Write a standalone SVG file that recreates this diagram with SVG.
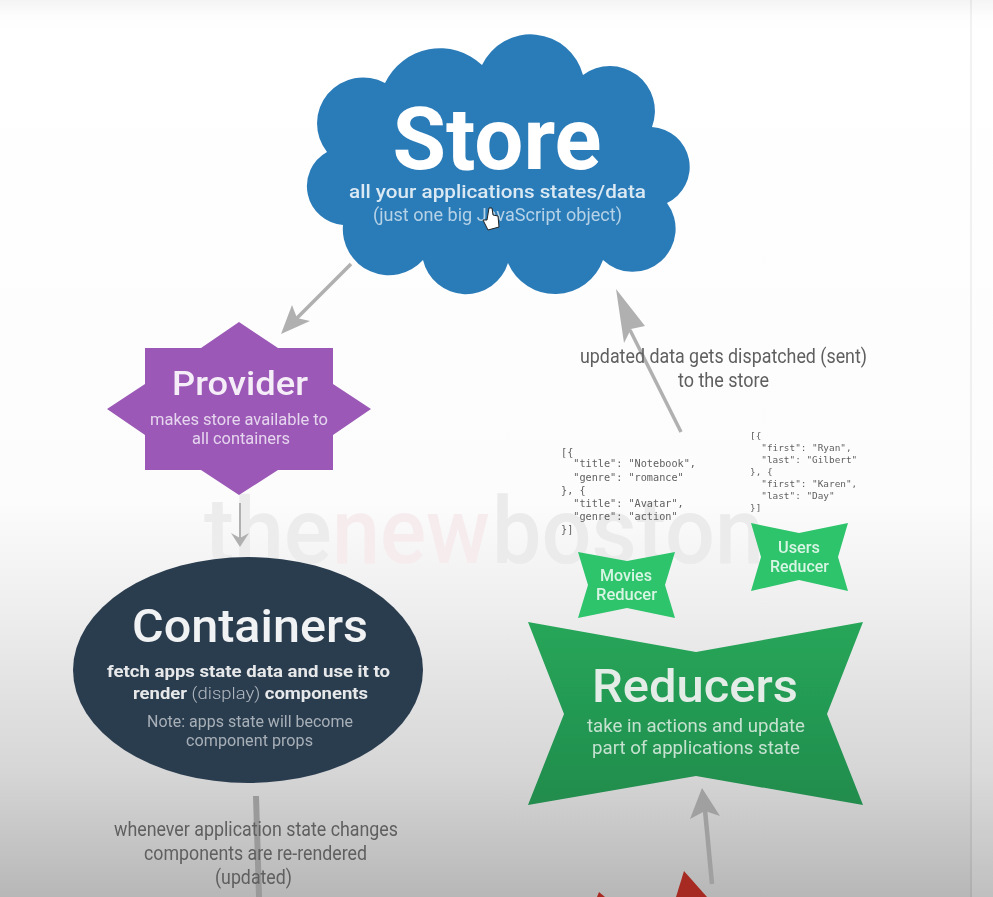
<svg xmlns="http://www.w3.org/2000/svg" width="993" height="897" viewBox="0 0 993 897">
<style>
text{font-family:Roboto,"Liberation Sans",sans-serif;text-anchor:middle}
.mono{font-family:"DejaVu Sans Mono","Liberation Mono",monospace;font-size:10.2px;fill:#5f5f5f;text-anchor:start;white-space:pre}
.mono2{font-size:9.4px}
.lbl{font-size:19.5px;fill:#5f5f5f}
.conn{stroke:#b0b0b0;fill:none;stroke-linecap:butt}
.head{fill:#b0b0b0}
.wm{font-size:92px;font-weight:500;text-anchor:start}
</style>
<defs>
<linearGradient id="bg" x1="0" y1="0" x2="0" y2="1">
<stop offset="0" stop-color="#f4f4f4"/><stop offset=".018" stop-color="#fdfdfd"/><stop offset=".035" stop-color="#ffffff"/><stop offset=".56" stop-color="#fcfcfc"/><stop offset=".68" stop-color="#eeeeee"/><stop offset=".86" stop-color="#d6d6d6"/><stop offset="1" stop-color="#b7b7b7"/>
</linearGradient>
<linearGradient id="grn" x1="0" y1="0" x2="0" y2="1"><stop offset="0" stop-color="#27a659"/><stop offset="1" stop-color="#208c4d"/></linearGradient>
<filter id="soft" x="0" y="0" width="1" height="1"><feGaussianBlur stdDeviation="0.6"/></filter>
</defs>
<g filter="url(#soft)">
<rect id="background" width="993" height="897" fill="url(#bg)"/>
<rect x="970" y="0" width="2" height="897" fill="#000" opacity=".05"/>
<rect x="972" y="0" width="21" height="897" fill="#fff" opacity=".12"/>
<g id="watermark">
<text class="wm" x="204" y="563" fill="#ececec" textLength="128" lengthAdjust="spacingAndGlyphs">the</text>
<text class="wm" x="332" y="563" fill="#f6ecee" textLength="158" lengthAdjust="spacingAndGlyphs">new</text>
<text class="wm" x="492" y="563" fill="#ebebeb" textLength="272" lengthAdjust="spacingAndGlyphs">boston</text>
</g>
<g id="connectors">
<line class="conn" x1="351" y1="264" x2="296" y2="319" stroke-width="3.5"/>
<polygon class="head" points="281,334 292,305 297,318 310,321"/>
<line class="conn" x1="240" y1="503" x2="240" y2="540" stroke-width="2"/>
<polygon class="head" points="240,547 231,533 240,538 249,533"/>
<line class="conn" x1="681" y1="432" x2="630" y2="330" stroke-width="3.5"/>
<polygon class="head" points="616,289 645,326 631,329 624,343"/>
<line class="conn" x1="712" y1="884" x2="705" y2="810" stroke-width="4.5" style="stroke:#a0a0a0"/>
<polygon points="702,788 720,816 705,811 690,819" fill="#a0a0a0"/>
<line class="conn" x1="256" y1="796" x2="259" y2="897" stroke-width="6" style="stroke:#9a9a9a"/>
</g>
<g id="store">
<path fill="#2b7cb9" d="M482,65A54,54 0 0 1 583,75A45,45 0 0 1 652,127A40,40 0 0 1 667,203A43,43 0 0 1 603,260A51,51 0 0 1 508,263A44,44 0 0 1 423,260A46,46 0 0 1 343,225A39,39 0 0 1 327,152A46,46 0 0 1 385,83A61,61 0 0 1 482,65Z"/>
<text x="497" y="169" font-size="88" font-weight="700" fill="#fff" textLength="209" lengthAdjust="spacingAndGlyphs">Store</text>
<text x="497.5" y="198" font-size="19.2" font-weight="500" fill="#dbe9f3" textLength="297" lengthAdjust="spacingAndGlyphs">all your applications states/data</text>
<text x="497.5" y="221" font-size="17.8" fill="#b5d2e7" textLength="249" lengthAdjust="spacingAndGlyphs">(just one big JavaScript object)</text>
<path id="cursor" d="M489,208L492,208L493,215L498,216L499,227L488,230L483,220L487,220Z" fill="#fff" stroke="#222" stroke-width="1"/>
</g>
<g id="provider">
<polygon fill="#9b59b6" points="239,322 278,348 333,348 333,384 371,409 333,435 333,470 278,470 239,495 201,470 145,470 145,435 107,409 145,384 145,348 201,348"/>
<text x="240" y="395" font-size="34" font-weight="500" fill="#f5eef8" textLength="136" lengthAdjust="spacingAndGlyphs">Provider</text>
<text x="239" y="425" font-size="15.6" fill="#e6d5ee" textLength="178" lengthAdjust="spacingAndGlyphs">makes store available to</text>
<text x="241" y="444" font-size="15.6" fill="#e6d5ee" textLength="98" lengthAdjust="spacingAndGlyphs">all containers</text>
</g>
<g id="containers">
<ellipse cx="248" cy="670" rx="175" ry="113" fill="#2c3e50"/>
<text x="250" y="642" font-size="47" font-weight="500" fill="#f1f2f3" textLength="236" lengthAdjust="spacingAndGlyphs">Containers</text>
<text x="248.5" y="677" font-size="17.4" font-weight="700" fill="#e6e8ea" textLength="283" lengthAdjust="spacingAndGlyphs">fetch apps state data and use it to</text>
<text x="250.5" y="699" font-size="17.4" font-weight="700" fill="#e6e8ea" textLength="235" lengthAdjust="spacingAndGlyphs">render <tspan font-weight="300" fill="#b3bac1">(display)</tspan> components</text>
<text x="250" y="727" font-size="15.6" fill="#a7afb7" textLength="206" lengthAdjust="spacingAndGlyphs">Note: apps state will become</text>
<text x="249.5" y="746" font-size="15.6" fill="#a7afb7" textLength="127" lengthAdjust="spacingAndGlyphs">component props</text>
</g>
<g id="label-rerender">
<text class="lbl" x="256" y="836" textLength="284" lengthAdjust="spacingAndGlyphs">whenever application state changes</text>
<text class="lbl" x="255.5" y="860" textLength="223" lengthAdjust="spacingAndGlyphs">components are re-rendered</text>
<text class="lbl" x="253.5" y="884" textLength="77" lengthAdjust="spacingAndGlyphs">(updated)</text>
</g>
<g id="label-dispatch">
<text class="lbl" x="723.5" y="363" textLength="287" lengthAdjust="spacingAndGlyphs">updated data gets dispatched (sent)</text>
<text class="lbl" x="723.5" y="387" textLength="91" lengthAdjust="spacingAndGlyphs">to the store</text>
</g>
<g id="movies-json">
<text class="mono" x="561" y="456">[{</text>
<text class="mono" x="561" y="467">  "title": "Notebook",</text>
<text class="mono" x="561" y="481">  "genre": "romance"</text>
<text class="mono" x="561" y="494">}, {</text>
<text class="mono" x="561" y="507">  "title": "Avatar",</text>
<text class="mono" x="561" y="520">  "genre": "action"</text>
<text class="mono" x="561" y="533">}]</text>
</g>
<g id="users-json">
<text class="mono mono2" x="750" y="439">[{</text>
<text class="mono mono2" x="750" y="451">  "first": "Ryan",</text>
<text class="mono mono2" x="750" y="463">  "last": "Gilbert"</text>
<text class="mono mono2" x="750" y="475">}, {</text>
<text class="mono mono2" x="750" y="487">  "first": "Karen",</text>
<text class="mono mono2" x="750" y="499">  "last": "Day"</text>
<text class="mono mono2" x="750" y="511">}]</text>
</g>
<g id="movies-reducer">
<polygon fill="#2dc46c" points="578,552 627,561 675,552 665,585 675,618 627,608 578,618 588,585"/>
<text x="626" y="581" font-size="15.6" font-weight="500" fill="#d8f5e3" textLength="52" lengthAdjust="spacingAndGlyphs">Movies</text>
<text x="626.5" y="600" font-size="15.6" font-weight="500" fill="#d8f5e3" textLength="61" lengthAdjust="spacingAndGlyphs">Reducer</text>
</g>
<g id="users-reducer">
<polygon fill="#2dc46c" points="751,523 799,533 848,523 838,557 848,591 799,580 751,591 761,557"/>
<text x="799" y="553" font-size="15.6" font-weight="500" fill="#d8f5e3" textLength="42" lengthAdjust="spacingAndGlyphs">Users</text>
<text x="799.5" y="572" font-size="15.6" font-weight="500" fill="#d8f5e3" textLength="59" lengthAdjust="spacingAndGlyphs">Reducer</text>
</g>
<g id="reducers">
<polygon fill="url(#grn)" points="528,622 696,652 863,622 827,714 863,805 696,776 528,805 564,714"/>
<text x="695" y="702" font-size="47" font-weight="500" fill="#e4ece7" textLength="206" lengthAdjust="spacingAndGlyphs">Reducers</text>
<text x="696" y="732" font-size="17.6" fill="#c5e2d0" textLength="218" lengthAdjust="spacingAndGlyphs">take in actions and update</text>
<text x="696" y="754" font-size="17.6" fill="#c5e2d0" textLength="208" lengthAdjust="spacingAndGlyphs">part of applications state</text>
</g>
<g id="action-shape">
<polygon fill="#a62c22" points="684,871 707,897 676,897"/>
<polygon fill="#a62c22" points="599,892 605,897 597,897"/>
</g>
</g>
</svg>
